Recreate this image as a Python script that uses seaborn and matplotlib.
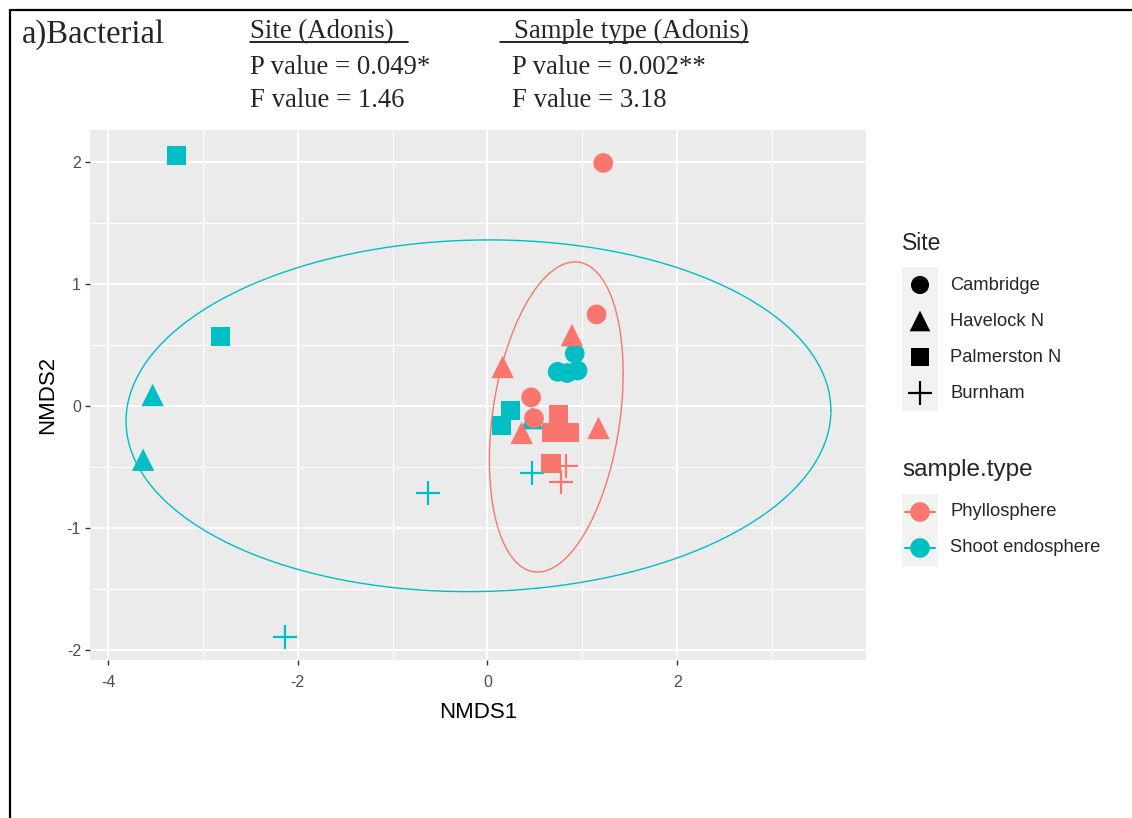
import numpy as np
import pandas as pd
import matplotlib
matplotlib.use("Agg")
import matplotlib.pyplot as plt
from matplotlib.patches import Rectangle
import seaborn as sns

# NMDS scores
site = (["Palmerston N"] * 4 + ["Havelock N"] * 3 + ["Cambridge"] * 4 + ["Burnham"] * 3
        + ["Cambridge"] * 4 + ["Havelock N"] * 4 + ["Palmerston N"] * 4 + ["Burnham"] * 2)
sample_type = ["Shoot endosphere"] * 14 + ["Phyllosphere"] * 14
nmds1 = [-3.28, -2.81, 0.24, 0.15,
         -3.53, -3.63, 0.47,
         0.92, 0.74, 0.84, 0.95,
         -0.63, -2.13, 0.47,
         1.22, 1.15, 0.46, 0.49,
         0.89, 0.16, 0.36, 1.17,
         0.75, 0.68, 0.86, 0.67,
         0.83, 0.78]
nmds2 = [2.05, 0.57, -0.04, -0.16,
         0.09, -0.44, -0.10,
         0.43, 0.28, 0.27, 0.29,
         -0.71, -1.89, -0.55,
         1.99, 0.75, 0.07, -0.10,
         0.58, 0.32, -0.22, -0.18,
         -0.07, -0.22, -0.22, -0.47,
         -0.49, -0.62]

sites = ["Cambridge", "Havelock N", "Palmerston N", "Burnham"]
types = ["Phyllosphere", "Shoot endosphere"]
type_colors = {"Phyllosphere": "#F8766D", "Shoot endosphere": "#00BFC4"}
site_markers = {"Cambridge": "o", "Havelock N": "^", "Palmerston N": "s", "Burnham": "+"}
site_sizes = {"Cambridge": 200, "Havelock N": 260, "Palmerston N": 190, "Burnham": 300}

# 95% ellipse outlines (centre x, centre y, half-width, half-height, correlation)
ell_cx = {"Phyllosphere": 0.725, "Shoot endosphere": -0.095}
ell_cy = {"Phyllosphere": -0.09, "Shoot endosphere": -0.08}
ell_sx = {"Phyllosphere": 0.705, "Shoot endosphere": 3.715}
ell_sy = {"Phyllosphere": 1.27, "Shoot endosphere": 1.44}
ell_r = {"Phyllosphere": 0.28, "Shoot endosphere": 0.03}

df = pd.DataFrame({"NMDS1": nmds1, "NMDS2": nmds2, "Site": site, "sample.type": sample_type})

sns.set_theme(style="darkgrid")
plt.rcParams["font.family"] = ["Liberation Sans", "DejaVu Sans"]
plt.rcParams["axes.unicode_minus"] = False

W, H = 1132, 818
fig = plt.figure(figsize=(W / 100, H / 100), dpi=100)
fig.patch.set_facecolor("white")

ax = fig.add_axes([90 / W, 1 - 660 / H, 776 / W, 530 / H])
ax.set_facecolor("#EBEBEB")

# teal drawn first, then red on top
for st in ["Shoot endosphere", "Phyllosphere"]:
    for s in sites:
        sub = df[(df["sample.type"] == st) & (df["Site"] == s)]
        if sub.empty:
            continue
        col = type_colors[st]
        if site_markers[s] == "+":
            sns.scatterplot(data=sub, x="NMDS1", y="NMDS2", marker="+", s=site_sizes[s],
                            color=col, edgecolor=col, linewidth=1.6, ax=ax, legend=False, zorder=3)
        else:
            sns.scatterplot(data=sub, x="NMDS1", y="NMDS2", marker=site_markers[s], s=site_sizes[s],
                            color=col, edgecolor="none", linewidth=0, ax=ax, legend=False, zorder=3)

t = np.linspace(0, 2 * np.pi, 300)
for st in types:
    ex = ell_cx[st] + ell_sx[st] * np.cos(t)
    ey = ell_cy[st] + ell_sy[st] * (ell_r[st] * np.cos(t) + np.sqrt(1 - ell_r[st] ** 2) * np.sin(t))
    ax.plot(ex, ey, color=type_colors[st], lw=1.0, zorder=4)

ax.set_xlim(-4.19, 3.99)
ax.set_ylim(-2.08, 2.26)
ax.set_xticks([-4, -2, 0, 2])
ax.set_xticks([-3, -1, 1, 3], minor=True)
ax.set_yticks([-2, -1, 0, 1, 2])
ax.set_yticks([-1.5, -0.5, 0.5, 1.5], minor=True)
ax.grid(which="major", color="white", lw=1.4)
ax.grid(which="minor", color="white", lw=0.8)
ax.set_axisbelow(True)
for sp in ax.spines.values():
    sp.set_visible(False)
ax.tick_params(which="major", length=3.5, width=1, color="#333333", labelcolor="#4D4D4D",
               labelsize=11.5, bottom=True, left=True)
ax.tick_params(axis="x", which="major", pad=7)
ax.tick_params(axis="y", which="major", pad=3)
ax.tick_params(which="minor", length=0)
ax.set_xlabel("NMDS1", fontsize=16, color="black", labelpad=9)
ax.set_ylabel("NMDS2", fontsize=16, color="black", labelpad=6)

# overlay in pixel coordinates for header, frame and legend
ov = fig.add_axes([0, 0, 1, 1], facecolor="none")
ov.set_xlim(0, W)
ov.set_ylim(H, 0)
ov.axis("off")

ov.plot([10, W], [10, 10], color="black", lw=1.6)
ov.plot([10, 10], [10, H], color="black", lw=1.6)

serif = ["Liberation Serif", "DejaVu Serif"]
fs = 19.3
ov.text(22, 43, "a)Bacterial", fontsize=23.5, family=serif, va="baseline", ha="left")
ov.text(250, 38, "Site (Adonis)", fontsize=fs, family=serif, va="baseline", ha="left")
ov.plot([250, 408], [42, 42], color="black", lw=1.2)
ov.text(514, 38, "Sample type (Adonis)", fontsize=fs, family=serif, va="baseline", ha="left")
ov.plot([500, 748], [42, 42], color="black", lw=1.2)
ov.text(250, 74, "P value = 0.049*", fontsize=fs, family=serif, va="baseline", ha="left")
ov.text(512, 74, "P value = 0.002**", fontsize=fs, family=serif, va="baseline", ha="left")
ov.text(250, 107, "F value = 1.46", fontsize=fs, family=serif, va="baseline", ha="left")
ov.text(512, 107, "F value = 3.18", fontsize=fs, family=serif, va="baseline", ha="left")

# legend: Site
ov.text(902, 243, "Site", fontsize=16.5, va="center", ha="left")
ov.add_patch(Rectangle((902, 267), 36, 144, facecolor="#F2F2F2", edgecolor="none"))
for i, s in enumerate(sites):
    yy = 285 + 36 * i
    if site_markers[s] == "+":
        ov.scatter([920], [yy], marker="+", s=site_sizes[s], color="black", linewidths=1.6)
    else:
        ov.scatter([920], [yy], marker=site_markers[s], s=site_sizes[s] * 0.85, color="black",
                   edgecolors="none")
    ov.text(950, yy, s, fontsize=13.2, va="center", ha="left")

# legend: sample.type
ov.text(902, 470, "sample.type", fontsize=17.5, va="center", ha="left")
ov.add_patch(Rectangle((902, 494), 36, 72, facecolor="#F2F2F2", edgecolor="none"))
for i, st in enumerate(types):
    yy = 512 + 36 * i
    ov.scatter([920], [yy], marker="o", s=200, color=type_colors[st], edgecolors="none")
    ov.plot([905, 935], [yy, yy], color=type_colors[st], lw=1.5)
    ov.text(950, yy, st, fontsize=13.2, va="center", ha="left")

fig.savefig("out.png", dpi=100)
